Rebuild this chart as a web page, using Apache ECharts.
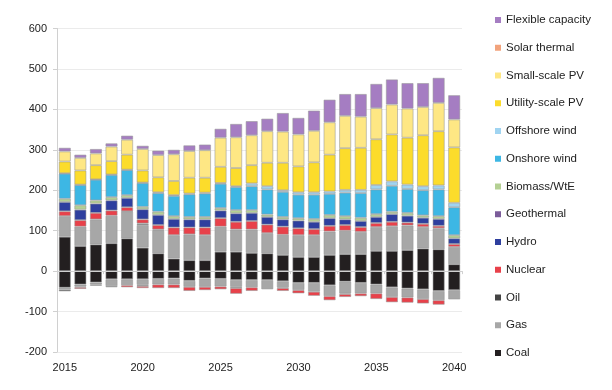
<!DOCTYPE html>
<html>
<head>
<meta charset="utf-8">
<script src="https://cdn.jsdelivr.net/npm/echarts@6/dist/echarts.min.js"></script>
<style>html,body{margin:0;padding:0;background:#fff}#c{width:612px;height:390px}</style>
</head>
<body>
<div id="c"></div>
<script>
const years = [2015,2016,2017,2018,2019,2020,2021,2022,2023,2024,2025,2026,2027,2028,2029,2030,2031,2032,2033,2034,2035,2036,2037,2038,2039,2040];
const yTicks = [-200,-100,0,100,200,300,400,500,600];

// positive additions
const coal        = [85,62,66,69,81,58,44,31,27,27,48,48,45,44,40,35,35,40,42,42,50,50,52,56,54,17];
const gas         = [51,48,62,68,66,56,56,58,64,62,62,55,58,50,50,54,54,58,58,55,59,61,61,53,52,43];
const oil         = [0,0,0,0,1,4,3,0,0,0,0,0,0,0,0,0,0,0,0,0,0,0,0,0,0,0];
const nuclear     = [12,16,16,13,10,10,11,19,17,19,21,19,21,21,20,17,15,14,14,12,10,11,7,8,6,7];
const hydro       = [23,26,23,25,23,25,25,21,20,20,19,21,20,19,18,19,18,19,14,15,15,19,17,15,17,14];
const geothermal  = [0,0,0,0,0,0,0,0,0,0,0,0,0,0,0,0,0,0,0,0,0,0,0,0,0,0];
const biomass     = [8,11,8,8,7,6,8,7,6,6,6,8,7,6,6,6,7,8,8,8,7,6,7,6,7,8];
const onshore     = [62,50,51,55,62,59,46,50,56,58,60,57,59,62,62,58,60,52,58,61,61,64,59,62,66,69];
const offshore    = [1,1,1,1,1,1,2,2,2,2,2,2,7,8,4,6,6,6,7,8,11,11,11,10,10,11];
const utilityPV   = [29,35,35,33,37,30,37,35,39,37,40,45,45,58,68,64,74,91,103,104,113,116,116,126,134,137];
const smallPV     = [25,31,29,36,37,53,55,66,66,68,72,76,74,78,77,79,78,80,80,77,77,74,72,70,70,69];
const solarThermal= [0,0,0,0,0,0,0,0,0,0,0,0,0,0,0,0,0,0,0,0,0,0,0,0,0,0];
const flexible    = [9,8,11,8,10,8,11,11,14,14,22,33,35,31,46,41,50,56,54,56,60,62,63,59,62,60];

// retirements (negative)
const coalNeg     = [-41,-33,-28,-20,-20,-20,-19,-18,-24,-18,-19,-22,-22,-22,-25,-29,-29,-35,-26,-29,-33,-40,-43,-45,-49,-47];
const gasNeg      = [-5,-5,-5,-17,-15,-14,-14,-15,-15,-21,-19,-17,-18,-23,-15,-18,-22,-27,-29,-26,-22,-24,-22,-24,-23,-23];
const oilNeg      = [-4,-2,-3,-3,0,-3,0,0,0,0,0,-3,0,0,-2,0,0,0,-2,0,0,0,0,0,0,0];
const nuclearNeg  = [0,-4,0,0,-5,-5,-9,-9,-10,-8,-7,-14,-9,0,-7,-8,-10,-10,-7,-7,-14,-13,-13,-11,-11,0];

const colors = {
  'Coal':'#231f20','Gas':'#a7a7a7','Oil':'#444444','Nuclear':'#e8414a','Hydro':'#2e3f9e',
  'Geothermal':'#7b5c9a','Biomass/WtE':'#b4d093','Onshore wind':'#3db7e4','Offshore wind':'#a0d4f1',
  'Utility-scale PV':'#fcdc2b','Small-scale PV':'#fee784','Solar thermal':'#f2a37c','Flexible capacity':'#a57dc2'
};

const posSeries = [
  ['Coal',coal],['Gas',gas],['Oil',oil],['Nuclear',nuclear],['Hydro',hydro],['Geothermal',geothermal],
  ['Biomass/WtE',biomass],['Onshore wind',onshore],['Offshore wind',offshore],['Utility-scale PV',utilityPV],
  ['Small-scale PV',smallPV],['Solar thermal',solarThermal],['Flexible capacity',flexible]
];
const negSeries = [['Coal',coalNeg],['Gas',gasNeg],['Oil',oilNeg],['Nuclear',nuclearNeg]];

function mk(name, arr){
  return {
    name: name, type:'bar', stack:'total', barWidth:12, xAxisIndex:0,
    data: arr.map(v => v === 0 ? null : v),
    itemStyle:{color: colors[name], borderColor:'rgba(150,150,150,0.7)', borderWidth:0.8},
    emphasis:{disabled:true}
  };
}
const series = posSeries.map(s => mk(s[0], s[1])).concat(negSeries.map(s => mk(s[0], s[1])));

const legendOrder = ['Flexible capacity','Solar thermal','Small-scale PV','Utility-scale PV','Offshore wind',
  'Onshore wind','Biomass/WtE','Geothermal','Hydro','Nuclear','Oil','Gas','Coal'];

const font = 'Liberation Sans, Arial, sans-serif';
const chart = echarts.init(document.getElementById('c'), null, {renderer:'canvas'});
chart.setOption({
  animation:false,
  textStyle:{fontFamily:font},
  grid:{left:57, right:150, top:28.5, bottom:38, containLabel:false, outerBoundsMode:'none'},
  legend:{
    orient:'vertical', left:495, top:13, padding:0, itemWidth:6, itemHeight:6, itemGap:13.75, itemTextGap:2,
    icon:'rect', data: legendOrder, itemStyle:{borderWidth:0},
    textStyle:{fontSize:11.5, color:'#222', fontFamily:font, lineHeight:14}
  },
  xAxis:[{
    type:'category', data: years, z:10,
    axisLine:{onZero:true, lineStyle:{color:'#d0d0d0', width:1}},
    axisTick:{show:true, length:3, lineStyle:{color:'#d0d0d0'}},
    axisLabel:{show:false}
  },{
    type:'category', data: years, position:'bottom',
    axisLine:{show:false, onZero:false},
    axisTick:{show:false},
    axisLabel:{interval:4, margin:10, fontSize:11, color:'#222', fontFamily:font}
  }],
  yAxis:{
    type:'value', min:yTicks[0], max:yTicks[yTicks.length-1], interval:100,
    axisLine:{show:true, lineStyle:{color:'#d0d0d0'}},
    axisTick:{show:true, length:4, lineStyle:{color:'#d0d0d0'}},
    splitLine:{lineStyle:{color:'#ebebeb'}},
    axisLabel:{fontSize:11, color:'#222', margin:10, fontFamily:font}
  },
  series: series
});
</script>
</body>
</html>
